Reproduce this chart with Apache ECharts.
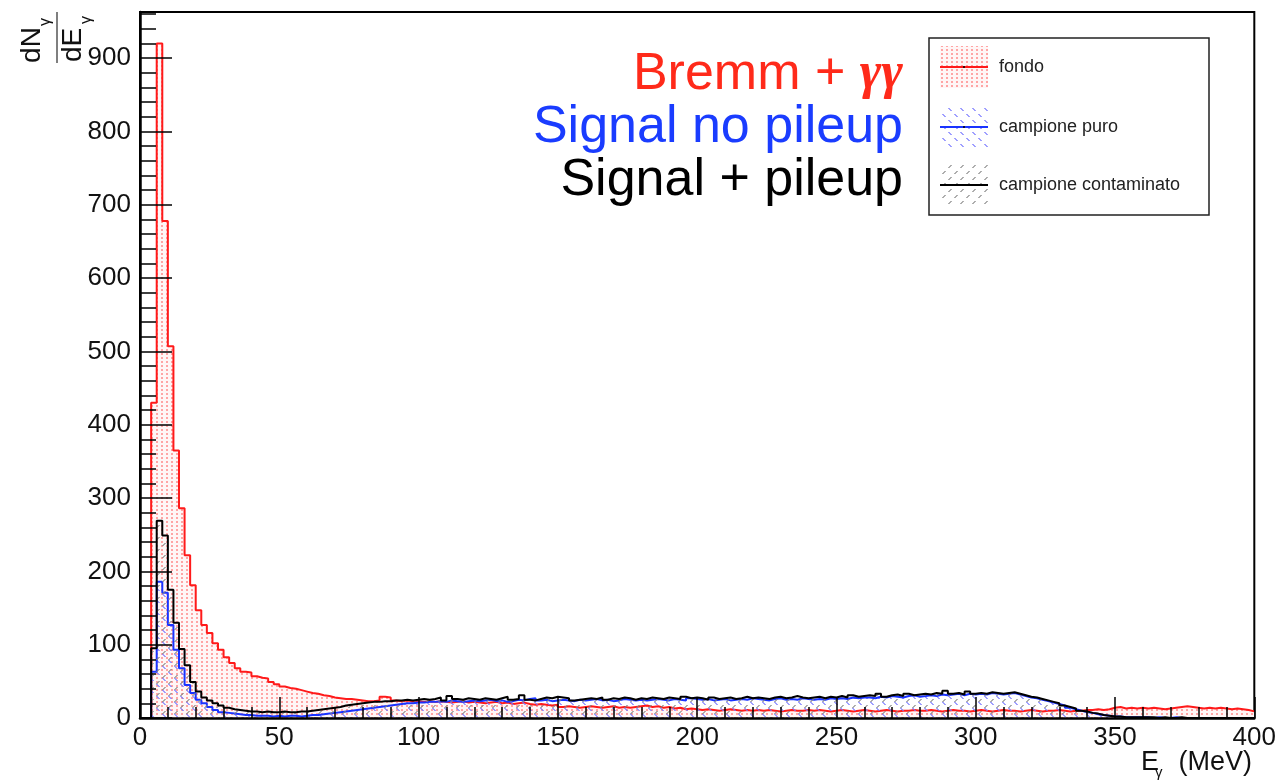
<!DOCTYPE html>
<html>
<head>
<meta charset="utf-8">
<script src="https://cdn.jsdelivr.net/npm/echarts@6/dist/echarts.min.js"></script>
<style>
html,body{margin:0;padding:0;background:#fff;}
#main{width:1279px;height:781px;}
</style>
</head>
<body>
<div id="main"></div>
<script>
// ---- data (2 MeV bins, 0..400 MeV) ----
const binWidth = 2;
const seriesNames = ['fondo', 'campione puro', 'campione contaminato'];
const annotations = ['Bremm + ', 'γγ', 'Signal no pileup', 'Signal + pileup'];
const xTickLabels = [0, 50, 100, 150, 200, 250, 300, 350, 400];

const fondo = [
  0, 0, 430, 920, 678, 507, 365, 286, 222, 181,
  147, 127, 116, 102, 93, 83, 75, 68, 63, 62,
  57, 55, 54, 49, 46, 43, 41, 40, 38, 36,
  34, 33, 31, 30, 28, 27, 26, 26, 25, 24,
  23, 23, 24, 29, 28, 24, 23, 24, 23, 23,
  22, 23, 22, 23, 22, 21, 22, 23, 21, 22,
  21, 20, 21, 22, 20, 21, 19, 20, 21, 19,
  18, 19, 18, 17, 18, 15, 16, 15, 14, 15,
  16, 15, 14, 15, 16, 14, 15, 14, 15, 16,
  17, 15, 16, 14, 15, 13, 14, 12, 13, 12,
  11, 12, 11, 10, 11, 12, 11, 10, 11, 10,
  11, 10, 11, 10, 9, 10, 11, 10, 10, 11,
  10, 11, 10, 9, 10, 11, 10, 9, 10, 11,
  10, 9, 10, 11, 10, 9, 10, 10, 11, 10,
  10, 11, 10, 9, 10, 11, 10, 10, 9, 10,
  11, 10, 9, 10, 11, 10, 10, 9, 10, 11,
  10, 9, 10, 10, 11, 10, 9, 10, 10, 11,
  11, 12, 11, 12, 14, 15, 13, 14, 13, 14,
  13, 14, 13, 12, 13, 14, 15, 16, 15, 14,
  13, 14, 13, 14, 13, 12, 13, 12, 11, 9
];

const puro = [
  0, 0, 63, 186, 171, 127, 93, 68, 45, 34,
  25, 20, 15, 11, 8, 7, 6, 5, 4, 4,
  3, 3, 3, 2, 3, 2, 3, 3, 2, 3,
  4, 4, 5, 6, 7, 8, 9, 10, 11, 12,
  13, 14, 15, 16, 17, 18, 19, 20, 20, 21,
  21, 22, 22, 23, 22, 24, 23, 22, 23, 24,
  23, 24, 25, 23, 24, 22, 23, 25, 24, 26,
  27, 24, 25, 23, 24, 25, 24, 23, 25, 24,
  25, 26, 24, 25, 23, 24, 26, 25, 24, 25,
  24, 25, 26, 25, 24, 26, 25, 24, 27, 26,
  25, 26, 24, 25, 26, 24, 25, 26, 25, 27,
  26, 25, 24, 26, 27, 25, 26, 25, 27, 26,
  25, 26, 25, 27, 26, 27, 26, 28, 27, 28,
  28, 27, 29, 28, 30, 29, 28, 30, 31, 29,
  30, 31, 30, 32, 31, 32, 33, 31, 33, 32,
  33, 32, 34, 33, 32, 33, 34, 32, 30, 28,
  27, 25, 23, 21, 19, 17, 14, 12, 10, 8,
  7, 5, 4, 3, 2, 2, 1, 1, 1, 1,
  1, 0, 1, 0, 0, 1, 0, 0, 0, 0,
  0, 0, 0, 0, 0, 0, 0, 0, 0, 0
];

const contaminato = [
  0, 0, 95, 269, 249, 175, 130, 94, 72, 49,
  36, 28, 24, 20, 17, 14, 12, 11, 10, 9,
  9, 8, 9, 8, 8, 9, 8, 8, 9, 9,
  10, 11, 12, 13, 14, 15, 17, 18, 19, 20,
  21, 22, 22, 23, 23, 24, 24, 25, 24, 25,
  26, 25, 26, 28, 24, 30, 26, 25, 27, 26,
  25, 27, 26, 25, 27, 29, 25, 26, 31, 25,
  24, 26, 28, 27, 29, 28, 27, 24, 25, 26,
  27, 26, 28, 25, 27, 26, 28, 27, 25, 27,
  26, 28, 27, 26, 28, 27, 26, 29, 27, 28,
  27, 25, 28, 26, 27, 28, 26, 27, 29, 27,
  28, 27, 26, 28, 29, 27, 28, 30, 28, 27,
  28, 29, 27, 29, 28, 30, 28, 31, 29, 30,
  31, 30, 33, 29, 31, 32, 30, 33, 31, 32,
  33, 32, 34, 33, 37, 33, 34, 32, 36, 33,
  34, 33, 35, 34, 33, 34, 35, 33, 31, 29,
  28, 26, 24, 22, 20, 17, 15, 13, 10, 9,
  7, 6, 4, 3, 2, 2, 1, 1, 1, 1,
  1, 1, 0, 1, 0, 0, 1, 0, 0, 0,
  0, 0, 0, 0, 0, 0, 0, 0, 0, 0
];

// ---- helpers ----
function toSteps(arr) {
  const d = arr.map((v, i) => [i * binWidth, v]);
  d.push([arr.length * binWidth, arr[arr.length - 1]]);
  return d;
}
function makePattern(kind) {
  const c = document.createElement('canvas');
  if (kind === 'dots') {
    c.width = 5; c.height = 4;
    const ctx = c.getContext('2d');
    ctx.fillStyle = 'rgba(255,246,246,1)';
    ctx.fillRect(0, 0, 5, 4);
    ctx.fillStyle = 'rgb(255,165,165)';
    ctx.fillRect(1, 1, 2, 2);
  } else {
    c.width = 12; c.height = 12;
    const ctx = c.getContext('2d');
    ctx.fillStyle = kind === 'blue' ? 'rgba(120,120,255,0.7)' : 'rgba(130,130,130,0.65)';
    for (let k = 0; k < 12; k += 6) {
      for (let j = 0; j < 3; j++) {
        const x = k + j;
        const y = kind === 'blue' ? k + j : 11 - (k + j);
        ctx.fillRect(x, y, 2, 1);
      }
    }
  }
  return { image: c, repeat: 'repeat' };
}

const colors = ['#ff1a1a', '#1a33ff', '#000000'];
const patterns = [makePattern('dots'), makePattern('blue'), makePattern('gray')];
const datasets = [fondo, puro, contaminato];

const chart = echarts.init(document.getElementById('main'), null, { renderer: 'canvas' });

const FONT = '"Liberation Sans", Arial, Helvetica, sans-serif';

const series = datasets.map((arr, i) => ({
  name: seriesNames[i],
  type: 'line',
  step: 'end',
  symbol: 'none',
  data: toSteps(arr),
  lineStyle: { color: colors[i], width: 2 },
  areaStyle: { color: patterns[i], opacity: 1 },
  z: 2 + i,
  animation: false
}));

// legend drawn as graphic
const legendRows = [67, 127, 185];
const legendEls = [
  { type: 'rect', shape: { x: 929, y: 38, width: 280, height: 177 }, style: { fill: '#fff', stroke: '#222', lineWidth: 1.5 }, z: 50 }
];
legendRows.forEach((cy, i) => {
  legendEls.push({ type: 'rect', shape: { x: 940, y: cy - 21, width: 48, height: 42 }, style: { fill: patterns[i], stroke: null }, z: 51 });
  legendEls.push({ type: 'line', shape: { x1: 940, y1: cy, x2: 988, y2: cy }, style: { stroke: colors[i], lineWidth: 2 }, z: 52 });
  legendEls.push({ type: 'circle', shape: { cx: 964, cy: cy, r: 1 }, style: { fill: '#000' }, z: 53 });
  legendEls.push({ type: 'text', x: 999, y: cy, style: { text: seriesNames[i], font: '18px ' + FONT, fill: '#222', align: 'left', verticalAlign: 'middle', textAlign: 'left', textVerticalAlign: 'middle' }, z: 52 });
});

const graphics = legendEls.concat([
  // annotations
  { type: 'text', x: 903, y: 75, style: {
      text: '{a|' + annotations[0] + '}{g|' + annotations[1] + '}',
      align: 'right', verticalAlign: 'middle', textAlign: 'right', textVerticalAlign: 'middle',
      rich: {
        a: { font: '52px ' + FONT, fill: '#ff2a1a' },
        g: { font: 'italic bold 52px "Liberation Serif", "DejaVu Serif", serif', fill: '#ff2a1a' }
      } }, z: 40 },
  { type: 'text', x: 903, y: 128, style: { text: annotations[2], font: '52px ' + FONT, fill: '#1a3cff', align: 'right', verticalAlign: 'middle', textAlign: 'right', textVerticalAlign: 'middle' }, z: 40 },
  { type: 'text', x: 903, y: 181, style: { text: annotations[3], font: '52px ' + FONT, fill: '#000', align: 'right', verticalAlign: 'middle', textAlign: 'right', textVerticalAlign: 'middle' }, z: 40 },
  // y title: dN_gamma / dE_gamma (rotated)
  { type: 'text', x: 32, y: 45, rotation: Math.PI / 2, style: { text: 'dN', font: '28px ' + FONT, fill: '#111', align: 'center', verticalAlign: 'middle', textAlign: 'center', textVerticalAlign: 'middle' }, z: 40 },
  { type: 'text', x: 46, y: 22, rotation: Math.PI / 2, style: { text: 'γ', font: '16px ' + FONT, fill: '#111', align: 'center', verticalAlign: 'middle', textAlign: 'center', textVerticalAlign: 'middle' }, z: 40 },
  { type: 'line', shape: { x1: 57, y1: 12, x2: 57, y2: 63 }, style: { stroke: '#555', lineWidth: 1.5 }, z: 40 },
  { type: 'text', x: 73, y: 45, rotation: Math.PI / 2, style: { text: 'dE', font: '28px ' + FONT, fill: '#111', align: 'center', verticalAlign: 'middle', textAlign: 'center', textVerticalAlign: 'middle' }, z: 40 },
  { type: 'text', x: 87, y: 20, rotation: Math.PI / 2, style: { text: 'γ', font: '16px ' + FONT, fill: '#111', align: 'center', verticalAlign: 'middle', textAlign: 'center', textVerticalAlign: 'middle' }, z: 40 },
  // x title: E_gamma (MeV)
  { type: 'text', x: 1141, y: 763, style: { text: 'E', font: '27px ' + FONT, fill: '#111', align: 'left', verticalAlign: 'middle', textAlign: 'left', textVerticalAlign: 'middle' }, z: 40 },
  { type: 'text', x: 1155, y: 773, style: { text: 'γ', font: '15px ' + FONT, fill: '#111', align: 'left', verticalAlign: 'middle', textAlign: 'left', textVerticalAlign: 'middle' }, z: 40 },
  { type: 'text', x: 1252, y: 763, style: { text: '(MeV)', font: '27px ' + FONT, fill: '#111', align: 'right', verticalAlign: 'middle', textAlign: 'right', textVerticalAlign: 'middle' }, z: 40 }
]);

const option = {
  animation: false,
  backgroundColor: '#fff',
  grid: { left: 140, right: 24, top: 12, bottom: 63, show: true, borderColor: '#000', borderWidth: 2, backgroundColor: 'transparent' },
  xAxis: {
    type: 'value', min: 0, max: 400, interval: 50, z: 10,
    axisLine: { show: true, onZero: false, lineStyle: { color: '#000', width: 2.5 } },
    axisTick: { show: true, inside: true, length: 21, lineStyle: { color: '#000', width: 1.5 } },
    minorTick: { show: true, splitNumber: 5, length: 11, lineStyle: { color: '#000', width: 1.5 } },
    axisLabel: { fontSize: 26, fontFamily: FONT, color: '#111', margin: 7,
      formatter: v => (xTickLabels.indexOf(v) >= 0 ? String(v) : '') },
    splitLine: { show: false }
  },
  yAxis: {
    type: 'value', min: 0, max: 963, interval: 100, z: 10,
    axisLine: { show: true, onZero: false, lineStyle: { color: '#000', width: 2.5 } },
    axisTick: { show: true, inside: true, length: 32, lineStyle: { color: '#000', width: 1.5 } },
    minorTick: { show: true, splitNumber: 5, length: 16, lineStyle: { color: '#000', width: 1.5 } },
    axisLabel: { fontSize: 26, fontFamily: FONT, color: '#111', margin: 9, showMaxLabel: false,
      formatter: v => (v % 100 === 0 ? String(v) : '') },
    splitLine: { show: false }
  },
  series: series,
  graphic: { elements: graphics }
};
chart.setOption(option);
</script>
</body>
</html>
